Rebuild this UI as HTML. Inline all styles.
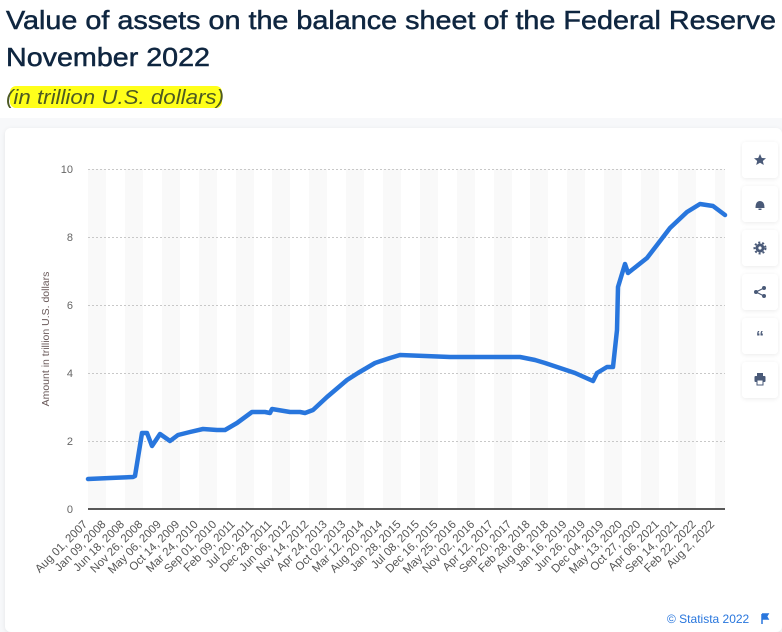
<!DOCTYPE html>
<html><head><meta charset="utf-8"><style>
html,body{margin:0;padding:0;background:#f7f8fa;}
svg{display:block;font-family:"Liberation Sans",sans-serif;}
</style></head><body>
<svg width="782" height="632" viewBox="0 0 782 632" xmlns="http://www.w3.org/2000/svg">
<defs>
<filter id="sh" x="-5%" y="-5%" width="110%" height="110%"><feDropShadow dx="0" dy="1" stdDeviation="2" flood-color="#000" flood-opacity="0.08"/></filter>
</defs>
<rect x="0" y="0" width="782" height="632" fill="#ffffff"/>
<text x="6" y="29" font-size="26" fill="#0f2640" stroke="#0f2640" stroke-width="0.5" textLength="770" lengthAdjust="spacingAndGlyphs">Value of assets on the balance sheet of the Federal Reserve</text>
<text x="6" y="66" font-size="26" fill="#0f2640" stroke="#0f2640" stroke-width="0.5" textLength="204" lengthAdjust="spacingAndGlyphs">November 2022</text>
<rect x="10" y="86" width="212" height="22" fill="#ffff1a" rx="6"/>
<text x="6" y="104" font-size="20" font-style="italic" fill="#4d5a22" textLength="218" lengthAdjust="spacingAndGlyphs">(in trillion U.S. dollars)</text>
<rect x="0" y="118" width="782" height="514" fill="#f7f8fa"/>
<rect x="5" y="128" width="777" height="504" rx="6" fill="#ffffff" filter="url(#sh)"/>
<g fill="#f9f9f9">
<rect x="88" y="169" width="18" height="340"/><rect x="125" y="169" width="18" height="340"/><rect x="162" y="169" width="18" height="340"/><rect x="199" y="169" width="18" height="340"/><rect x="236" y="169" width="18" height="340"/><rect x="272" y="169" width="18" height="340"/><rect x="309" y="169" width="18" height="340"/><rect x="346" y="169" width="18" height="340"/><rect x="383" y="169" width="18" height="340"/><rect x="420" y="169" width="18" height="340"/><rect x="457" y="169" width="18" height="340"/><rect x="494" y="169" width="18" height="340"/><rect x="530" y="169" width="18" height="340"/><rect x="567" y="169" width="18" height="340"/><rect x="604" y="169" width="18" height="340"/><rect x="641" y="169" width="18" height="340"/><rect x="678" y="169" width="18" height="340"/><rect x="715" y="169" width="10" height="340"/>
</g>
<g stroke="#c8c8c8" stroke-dasharray="2,2" stroke-width="1">
<line x1="88" y1="169.5" x2="725" y2="169.5"/><line x1="88" y1="237.5" x2="725" y2="237.5"/><line x1="88" y1="305.5" x2="725" y2="305.5"/><line x1="88" y1="373.5" x2="725" y2="373.5"/><line x1="88" y1="441.5" x2="725" y2="441.5"/>
</g>
<line x1="88" y1="509" x2="725" y2="509" stroke="#222" stroke-width="1.5"/>
<g font-size="11" fill="#666" text-anchor="end">
<text x="73" y="173">10</text><text x="73" y="241">8</text><text x="73" y="309">6</text><text x="73" y="377">4</text><text x="73" y="445">2</text><text x="73" y="513">0</text>
</g>
<text transform="translate(49,339) rotate(-90)" font-size="10.5" fill="#6a5a5a" text-anchor="middle">Amount in trillion U.S. dollars</text>
<polyline fill="none" stroke="#2876dd" stroke-width="4.5" stroke-linejoin="round" stroke-linecap="round" points="88,479 110,478 133,477 135,476 142,433 147,433 152,446 160,434 170,441 178,435 190,432 203,429 217,430 225,430 237,423 252,412 265,412 270,413 272,409 278,410 290,412 300,412 305,413 313,410 327,397 347,380 358,373 375,363 390,358 400,355 450,357 520,357 535,360 545,363 560,368 575,373 593,381 597,373 607,367 613,367 617,330 618,287 625,264 628,273 647,258 657,245 670,228 687,212 700,204 713,206 725,215"/>
<g font-size="11.5" fill="#555" text-anchor="end">
<text transform="translate(88,525) rotate(-45)">Aug 01, 2007</text>
<text transform="translate(106.4,525) rotate(-45)">Jan 09, 2008</text>
<text transform="translate(124.9,525) rotate(-45)">Jun 18, 2008</text>
<text transform="translate(143.3,525) rotate(-45)">Nov 26, 2008</text>
<text transform="translate(161.8,525) rotate(-45)">May 06, 2009</text>
<text transform="translate(180.2,525) rotate(-45)">Oct 14, 2009</text>
<text transform="translate(198.6,525) rotate(-45)">Mar 24, 2010</text>
<text transform="translate(217.1,525) rotate(-45)">Sep 01, 2010</text>
<text transform="translate(235.5,525) rotate(-45)">Feb 09, 2011</text>
<text transform="translate(254,525) rotate(-45)">Jul 20, 2011</text>
<text transform="translate(272.4,525) rotate(-45)">Dec 28, 2011</text>
<text transform="translate(290.8,525) rotate(-45)">Jun 06, 2012</text>
<text transform="translate(309.3,525) rotate(-45)">Nov 14, 2012</text>
<text transform="translate(327.7,525) rotate(-45)">Apr 24, 2013</text>
<text transform="translate(346.2,525) rotate(-45)">Oct 02, 2013</text>
<text transform="translate(364.6,525) rotate(-45)">Mar 12, 2014</text>
<text transform="translate(383,525) rotate(-45)">Aug 20, 2014</text>
<text transform="translate(401.5,525) rotate(-45)">Jan 28, 2015</text>
<text transform="translate(419.9,525) rotate(-45)">Jul 08, 2015</text>
<text transform="translate(438.4,525) rotate(-45)">Dec 16, 2015</text>
<text transform="translate(456.8,525) rotate(-45)">May 25, 2016</text>
<text transform="translate(475.2,525) rotate(-45)">Nov 02, 2016</text>
<text transform="translate(493.7,525) rotate(-45)">Apr 12, 2017</text>
<text transform="translate(512.1,525) rotate(-45)">Sep 20, 2017</text>
<text transform="translate(530.6,525) rotate(-45)">Feb 28, 2018</text>
<text transform="translate(549,525) rotate(-45)">Aug 08, 2018</text>
<text transform="translate(567.4,525) rotate(-45)">Jan 16, 2019</text>
<text transform="translate(585.9,525) rotate(-45)">Jun 26, 2019</text>
<text transform="translate(604.3,525) rotate(-45)">Dec 04, 2019</text>
<text transform="translate(622.8,525) rotate(-45)">May 13, 2020</text>
<text transform="translate(641.2,525) rotate(-45)">Oct 27, 2020</text>
<text transform="translate(659.6,525) rotate(-45)">Apr 06, 2021</text>
<text transform="translate(678.1,525) rotate(-45)">Sep 14, 2021</text>
<text transform="translate(696.5,525) rotate(-45)">Feb 22, 2022</text>
<text transform="translate(715,525) rotate(-45)">Aug 2, 2022</text>
</g>
<text x="667" y="623" font-size="12" fill="#2876dd">© Statista 2022</text>
<path d="M762,614 v10 M762,614 h6 l-1.5,2.5 l1.5,2.5 h-6" fill="#2876dd" stroke="#2876dd" stroke-width="1.5"/>
<g filter="url(#sh)" fill="#fff">
<rect x="742" y="142" width="36" height="36" rx="4"/><rect x="742" y="186" width="36" height="36" rx="4"/><rect x="742" y="230" width="36" height="36" rx="4"/><rect x="742" y="274" width="36" height="36" rx="4"/><rect x="742" y="318" width="36" height="36" rx="4"/><rect x="742" y="362" width="36" height="36" rx="4"/>
</g>
<g fill="#4a5a78" stroke="none">
<polygon points="760,154 761.8,158 766,158.3 762.8,161 763.8,165 760,162.8 756.2,165 757.2,161 754,158.3 758.2,158"/>
<path d="M755.5,208 q0,-7 4.5,-7 q4.5,0 4.5,7 z"/><rect x="758.5" y="208.5" width="3" height="1.5"/>
<circle cx="760" cy="248" r="4.5"/><circle cx="760" cy="248" r="1.6" fill="#fff"/>
<circle cx="760" cy="248" r="5.5" fill="none" stroke="#4a5a78" stroke-width="2" stroke-dasharray="2,2"/>
<circle cx="764" cy="288" r="2"/><circle cx="756" cy="292" r="2"/><circle cx="764" cy="296" r="2"/>
<text x="760" y="342" font-size="16" font-weight="bold" text-anchor="middle" fill="#4a5a78">“</text>
<rect x="754.5" y="376" width="11" height="6" rx="1"/><rect x="757" y="373" width="6" height="3"/><rect x="757" y="380" width="6" height="5" fill="#fff" stroke="#4a5a78" stroke-width="1"/>
</g>
<polyline points="764,288 756,292 764,296" fill="none" stroke="#4a5a78" stroke-width="1.2"/>
</svg>
</body></html>
